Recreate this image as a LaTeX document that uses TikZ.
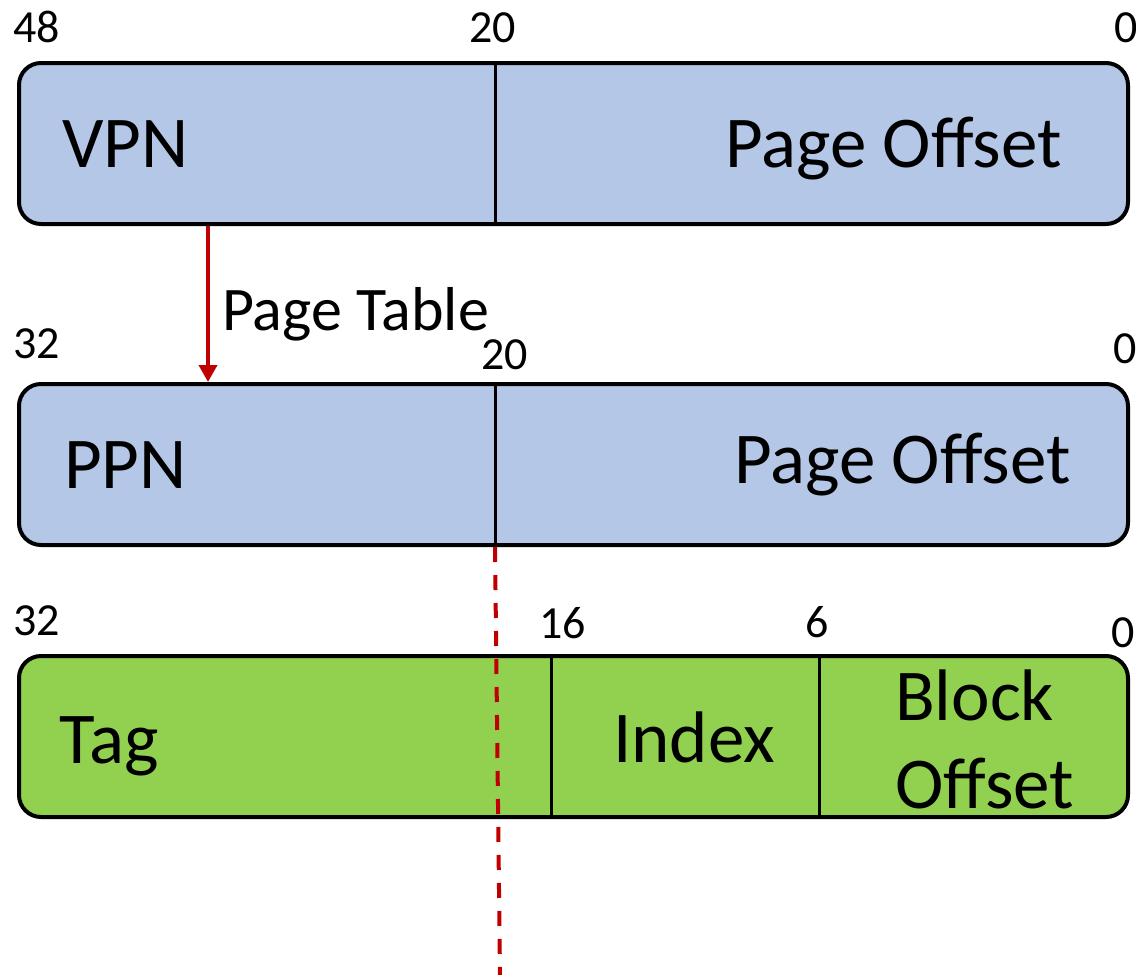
\documentclass[tikz,border=0pt]{standalone}
\usepackage{fontspec}
\setmainfont{Carlito}
\usepackage{tikz}
\usetikzlibrary{
	positioning,
	arrows.meta
}
\definecolor{vablue}{HTML}{B4C7E7}
\definecolor{cachegreen}{HTML}{92D050}
\definecolor{ptred}{HTML}{C00000}

\begin{document}
\begin{tikzpicture}[x=1pt,y=-1pt,
		addr/.style={draw,line width=4pt,rounded corners=22pt,
			minimum width=1109pt,minimum height=161pt,inner sep=0pt},
		field/.style={anchor=base west,inner sep=0pt,font=\fontsize{73}{80}\selectfont},
		bit/.style={anchor=base west,inner sep=0pt,font=\fontsize{46}{50}\selectfont},
		split/.style={line width=3pt},
		ptlink/.style={draw=ptred,line width=4pt}
	]
		\useasboundingbox (0,0) rectangle (1136,975);

		% the three address boxes
		\node[addr,fill=vablue]     (va) at (573.5,143.5) {};
		\node[addr,fill=vablue]     (pa) at (573.5,464.5) {};
		\node[addr,fill=cachegreen] (ca) at (573.5,736.5) {};

		\coordinate (cut20) at (495,0);
		\coordinate (cut16) at (551,0);
		\coordinate (cut6)  at (819,0);
		\coordinate (ptx)   at (208,0);
		\coordinate (tail)  at (500,975);

		\draw[split] (va.north -| cut20) -- (va.south -| cut20);
		\draw[split] (pa.north -| cut20) -- (pa.south -| cut20);
		\draw[split] (ca.north -| cut16) -- (ca.south -| cut16);
		\draw[split] (ca.north -| cut6)  -- (ca.south -| cut6);

		% translation and page boundary
		\draw[ptlink,-{Triangle[width=18pt,length=17pt]}] (va.south -| ptx) -- (pa.north -| ptx);
		\draw[ptlink,dash pattern=on 15pt off 13pt] (pa.south -| cut20) -- (tail);

		\node[anchor=base west,inner sep=0pt,font=\fontsize{62}{68}\selectfont] (pt) at (222,330) {Page Table};

		% field names
		\node[field] (vpn)  at (62,167)  {VPN};
		\node[field,anchor=base east] (voff) at (1062,167) {Page Offset};
		\node[field] (ppn)  at (64,488)  {PPN};
		\node[field,anchor=base east] (poff) at (1071,483) {Page Offset};
		\node[field] (tag)  at (59,763)  {Tag};
		\node[field] (idx)  at (613,762) {Index};
		\node[field] (blk)  at (895,720) {Block};
		\node[field] (boff) at (895,808) {Offset};

		% bit positions
		\node[bit] (va48) at (13,42)    {48};
		\node[bit] (va20) at (469,42)   {20};
		\node[bit] (va0)  at (1114,42)  {0};
		\node[bit] (pa32) at (13,358)   {32};
		\node[bit] (pa20) at (481,369)  {20};
		\node[bit] (pa0)  at (1113,363) {0};
		\node[bit] (ca32) at (13,635)   {32};
		\node[bit] (ca16) at (539,638)  {16};
		\node[bit] (ca6)  at (805,637)  {6};
		\node[bit] (ca0)  at (1111,647) {0};
	\end{tikzpicture}
\end{document}
